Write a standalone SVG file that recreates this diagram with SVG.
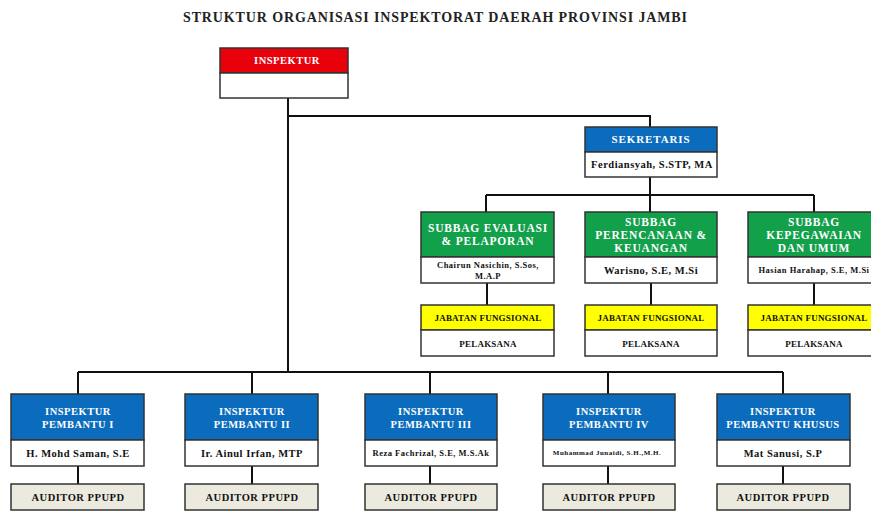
<svg xmlns="http://www.w3.org/2000/svg" width="871" height="512" viewBox="0 0 871 512">
<style>
text{font-family:"Liberation Serif","Times New Roman",serif;font-weight:bold;text-anchor:middle;letter-spacing:0.5px}
.box{stroke:#333;stroke-width:1.5}
.red{fill:#e8000b}
.blue{fill:#0b6cbd}
.green{fill:#12a04b}
.yel{fill:#ffff00}
.wht{fill:#ffffff}
.aud{fill:#eceadf}
.hd{fill:#ffffff;font-size:10.5px}
.sb{fill:#ffffff;font-size:11.5px;letter-spacing:0.8px}
.nm{fill:#111;font-size:10.5px}
.sm{fill:#111;font-size:8.5px}
.xs{fill:#111;font-size:7px}
.jb{fill:#111;font-size:9px;letter-spacing:0.2px}
.bk{fill:#111;font-size:10.5px}
.conn{stroke:#111;stroke-width:2;fill:none}
</style>
<rect width="871" height="512" fill="#ffffff"/>
<text x="435" y="22" style="font-size:14px;fill:#222;letter-spacing:0" textLength="504" lengthAdjust="spacing">STRUKTUR ORGANISASI INSPEKTORAT DAERAH PROVINSI JAMBI</text>

<g id="connectors">
<path class="conn" d="M288 98 V372"/>
<path class="conn" d="M288 116 H650 V127"/>
<path class="conn" d="M650 177 V195"/>
<path class="conn" d="M486 195 H814"/>
<path class="conn" d="M486 195 V212 M650 195 V212 M814 195 V212"/>
<path class="conn" d="M487 283 V305 M651 283 V305 M814 283 V305"/>
<path class="conn" d="M78 372 H783"/>
<path class="conn" d="M78 372 V394 M252 372 V394 M430 372 V394 M608 372 V394 M783 372 V394"/>
<path class="conn" d="M78 466 V484 M252 466 V484 M430 466 V484 M608 466 V484 M783 466 V484"/>
</g>

<g id="inspektur">
<rect class="box red" x="220" y="48" width="128" height="25"/>
<rect class="box wht" x="220" y="73" width="128" height="25"/>
<text class="hd" x="287" y="64">INSPEKTUR</text>
</g>

<g id="sekretaris">
<rect class="box blue" x="585" y="127" width="132" height="25"/>
<rect class="box wht" x="585" y="152" width="132" height="25"/>
<text class="hd" x="651" y="143" style="font-size:11px;letter-spacing:0.9px">SEKRETARIS</text>
<text class="nm" x="652" y="168">Ferdiansyah, S.STP, MA</text>
</g>

<g id="subbag-evaluasi">
<rect class="box green" x="421" y="212" width="133" height="45"/>
<rect class="box wht" x="421" y="257" width="133" height="26"/>
<text class="sb" x="488" y="232">SUBBAG EVALUASI</text>
<text class="sb" x="488" y="245">&amp; PELAPORAN</text>
<text class="sm" x="488" y="268">Chairun Nasichin, S.Sos,</text>
<text class="sm" x="488" y="279">M.A.P</text>
</g>

<g id="subbag-perencanaan">
<rect class="box green" x="585" y="212" width="132" height="45"/>
<rect class="box wht" x="585" y="257" width="132" height="26"/>
<text class="sb" x="651" y="226">SUBBAG</text>
<text class="sb" x="651" y="239">PERENCANAAN &amp;</text>
<text class="sb" x="651" y="252">KEUANGAN</text>
<text class="nm" x="651" y="274">Warisno, S.E, M.Si</text>
</g>

<g id="subbag-kepegawaian">
<rect class="box green" x="748" y="212" width="132" height="45"/>
<rect class="box wht" x="748" y="257" width="132" height="26"/>
<text class="sb" x="814" y="226">SUBBAG</text>
<text class="sb" x="814" y="239">KEPEGAWAIAN</text>
<text class="sb" x="814" y="252">DAN UMUM</text>
<text class="sm" x="814" y="273">Hasian Harahap, S.E, M.Si</text>
</g>

<g id="jabatan-1">
<rect class="box yel" x="421" y="305" width="133" height="25"/>
<rect class="box wht" x="421" y="330" width="133" height="26"/>
<text class="jb" x="488" y="321">JABATAN FUNGSIONAL</text>
<text class="jb" x="488" y="347">PELAKSANA</text>
</g>
<g id="jabatan-2">
<rect class="box yel" x="585" y="305" width="132" height="25"/>
<rect class="box wht" x="585" y="330" width="132" height="26"/>
<text class="jb" x="651" y="321">JABATAN FUNGSIONAL</text>
<text class="jb" x="651" y="347">PELAKSANA</text>
</g>
<g id="jabatan-3">
<rect class="box yel" x="748" y="305" width="132" height="25"/>
<rect class="box wht" x="748" y="330" width="132" height="26"/>
<text class="jb" x="814" y="321">JABATAN FUNGSIONAL</text>
<text class="jb" x="814" y="347">PELAKSANA</text>
</g>

<g id="irban-1">
<rect class="box blue" x="11" y="394" width="133" height="46"/>
<rect class="box wht" x="11" y="440" width="133" height="26"/>
<text class="hd" x="78" y="415">INSPEKTUR</text>
<text class="hd" x="78" y="428">PEMBANTU I</text>
<text class="nm" x="78" y="457">H. Mohd Saman, S.E</text>
</g>
<g id="irban-2">
<rect class="box blue" x="185" y="394" width="133" height="46"/>
<rect class="box wht" x="185" y="440" width="133" height="26"/>
<text class="hd" x="252" y="415">INSPEKTUR</text>
<text class="hd" x="252" y="428">PEMBANTU II</text>
<text class="nm" x="252" y="457">Ir. Ainul Irfan, MTP</text>
</g>
<g id="irban-3">
<rect class="box blue" x="365" y="394" width="132" height="46"/>
<rect class="box wht" x="365" y="440" width="132" height="26"/>
<text class="hd" x="431" y="415">INSPEKTUR</text>
<text class="hd" x="431" y="428">PEMBANTU III</text>
<text class="sm" x="431" y="456">Reza Fachrizal, S.E, M.S.Ak</text>
</g>
<g id="irban-4">
<rect class="box blue" x="543" y="394" width="132" height="46"/>
<rect class="box wht" x="543" y="440" width="132" height="26"/>
<text class="hd" x="609" y="415">INSPEKTUR</text>
<text class="hd" x="609" y="428">PEMBANTU IV</text>
<text class="xs" x="607" y="455">Muhammad Junaidi, S.H.,M.H.</text>
</g>
<g id="irban-khusus">
<rect class="box blue" x="717" y="394" width="133" height="46"/>
<rect class="box wht" x="717" y="440" width="133" height="26"/>
<text class="hd" x="783" y="415">INSPEKTUR</text>
<text class="hd" x="783" y="428">PEMBANTU KHUSUS</text>
<text class="nm" x="783" y="457">Mat Sanusi, S.P</text>
</g>

<g id="auditor-1"><rect class="box aud" x="11" y="484" width="133" height="26"/><text class="bk" x="78" y="501">AUDITOR PPUPD</text></g>
<g id="auditor-2"><rect class="box aud" x="185" y="484" width="133" height="26"/><text class="bk" x="252" y="501">AUDITOR PPUPD</text></g>
<g id="auditor-3"><rect class="box aud" x="365" y="484" width="132" height="26"/><text class="bk" x="431" y="501">AUDITOR PPUPD</text></g>
<g id="auditor-4"><rect class="box aud" x="543" y="484" width="132" height="26"/><text class="bk" x="609" y="501">AUDITOR PPUPD</text></g>
<g id="auditor-5"><rect class="box aud" x="717" y="484" width="133" height="26"/><text class="bk" x="783" y="501">AUDITOR PPUPD</text></g>
</svg>
